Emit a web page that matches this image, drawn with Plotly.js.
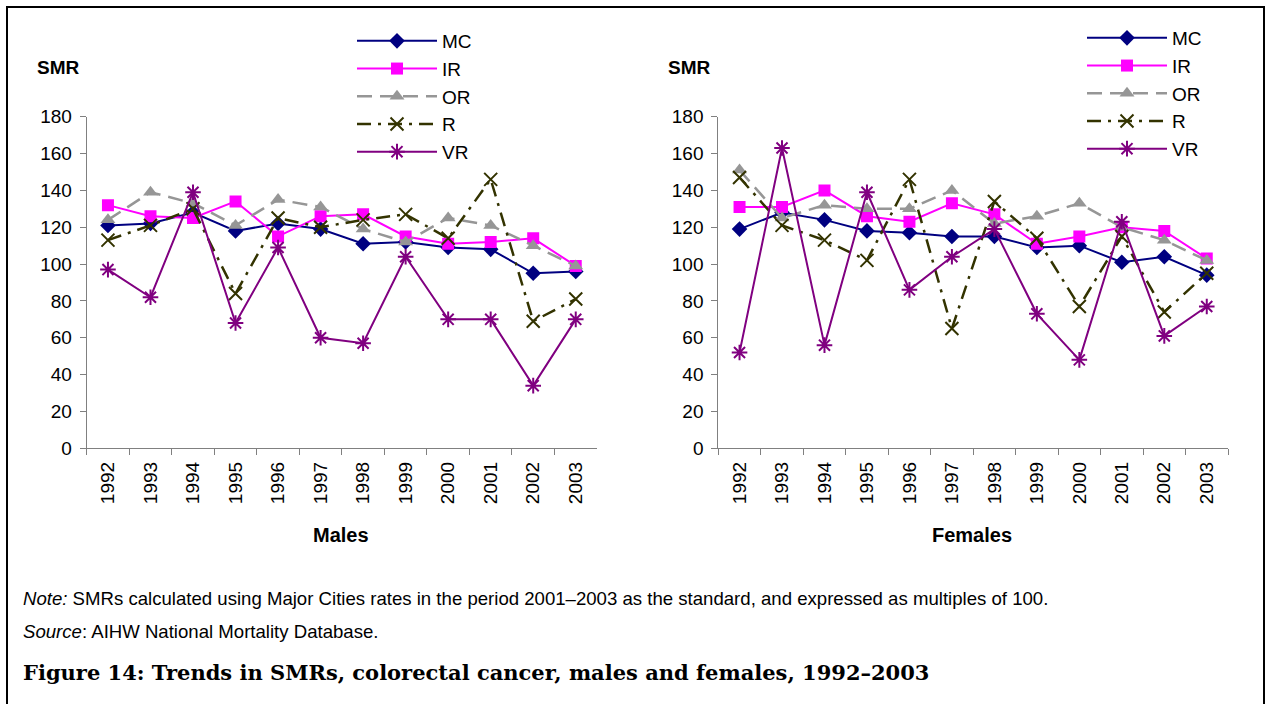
<!DOCTYPE html>
<html><head><meta charset="utf-8">
<script src="https://cdn.plot.ly/plotly-3.0.1.min.js"></script>
<style>html,body{margin:0;padding:0;background:#fff;}#chart{width:1268px;height:704px;}</style>
</head><body><div id="chart"></div>
<script>
const years = ["1992","1993","1994","1995","1996","1997","1998","1999","2000","2001","2002","2003"];
const seriesNames = ["MC","IR","OR","R","VR"];
// Males
const maleMC = [121, 122, 128, 118, 122, 119, 111, 112, 109, 108, 95, 96];
const maleIR = [132, 126, 125, 134, 115, 126, 127, 115, 111, 112, 114, 99];
const maleOR = [124, 139, 133, 121, 135, 131, 119, 112, 125, 121, 110, 99];
const maleR  = [113, 121, 130, 84, 125, 120, 124, 127, 114, 146, 69, 81];
const maleVR = [97, 82, 139, 68, 109, 60, 57, 104, 70, 70, 34, 70];
// Females
const femaleMC = [119, 128, 124, 118, 117, 115, 115, 109, 110, 101, 104, 94];
const femaleIR = [131, 131, 140, 126, 123, 133, 127, 111, 115, 120, 118, 103];
const femaleOR = [151, 125, 132, 130, 130, 140, 122, 126, 133, 120, 113, 102];
const femaleR  = [147, 121, 113, 102, 146, 65, 134, 114, 77, 115, 74, 95];
const femaleVR = [52, 163, 56, 139, 86, 104, 119, 73, 48, 123, 61, 77];
const yTicks = [0,20,40,60,80,100,120,140,160,180];

const styles = {
  MC: {line:{color:'#000080',width:2}, marker:{symbol:'diamond',size:12,color:'#000080'}},
  IR: {line:{color:'#FF00FF',width:2}, marker:{symbol:'square',size:12,color:'#FF00FF'}},
  OR: {line:{color:'#969696',width:2.5,dash:'15px,8px'}, marker:{symbol:'triangle-up',size:13,color:'#969696'}},
  R:  {line:{color:'#333300',width:2.5,dash:'14px,7px,3px,7px'}, marker:{symbol:'x-thin-open',size:13,color:'#333300',line:{width:2,color:'#333300'}}},
  VR: {line:{color:'#800080',width:2}, marker:{symbol:'asterisk-open',size:13,color:'#800080',line:{width:2,color:'#800080'}}}
};
const maleData = {MC:maleMC, IR:maleIR, OR:maleOR, R:maleR, VR:maleVR};
const femaleData = {MC:femaleMC, IR:femaleIR, OR:femaleOR, R:femaleR, VR:femaleVR};

const traces = [];
seriesNames.forEach(n => {
  traces.push(Object.assign({type:'scatter',mode:'lines+markers',name:n,x:years,y:maleData[n],xaxis:'x',yaxis:'y',legend:'legend'}, JSON.parse(JSON.stringify(styles[n]))));
});
seriesNames.forEach(n => {
  traces.push(Object.assign({type:'scatter',mode:'lines+markers',name:n,x:years,y:femaleData[n],xaxis:'x2',yaxis:'y2',legend:'legend2'}, JSON.parse(JSON.stringify(styles[n]))));
});

const W=1268,H=704;
const FAM = 'Liberation Sans, Arial, sans-serif';
const axFont = {family:FAM, size:19, color:'#000'};
function xax(d0,d1,anchor){
  return {type:'category', domain:[d0/W,d1/W], anchor:anchor, range:[-0.5,11.5], showline:true, linecolor:'#808080', linewidth:1,
    ticks:'outside', ticklen:6, tickcolor:'#808080', tickson:'boundaries', tickangle:-90, tickfont:axFont, ticklabelstandoff:5,
    showgrid:false, zeroline:false, fixedrange:true};
}
function yax(anchor){
  return {domain:[(H-448.3)/H,(H-116.7)/H], anchor:anchor, range:[0,180], tickvals:yTicks, showline:true, linecolor:'#808080', linewidth:1,
    ticks:'outside', ticklen:6, tickcolor:'#808080', tickfont:axFont, ticklabelstandoff:4, showgrid:false, zeroline:false, fixedrange:true};
}
const legFont = {family:FAM, size:19, color:'#000'};
const layout = {
  width:W, height:H, margin:{l:0,r:0,t:0,b:0}, paper_bgcolor:'#fff', plot_bgcolor:'#fff', showlegend:true,
  xaxis: xax(86.7,597,'y'), yaxis: yax('x'),
  xaxis2: xax(718.3,1228,'y2'), yaxis2: yax('x2'),
  legend:{x:352/W, y:1-22/H, xanchor:'left', yanchor:'top', font:legFont, itemwidth:80, bgcolor:'rgba(0,0,0,0)', tracegroupgap:0},
  legend2:{x:1082/W, y:1-19/H, xanchor:'left', yanchor:'top', font:legFont, itemwidth:80, bgcolor:'rgba(0,0,0,0)', tracegroupgap:0},
  shapes:[{type:'rect', xref:'paper', yref:'paper', x0:7/W, x1:1264/W, y0:-0.01, y1:1-7/H, line:{color:'#000',width:2}}],
  annotations:[
    {text:'<b>SMR</b>', xref:'paper', yref:'paper', x:35/W, y:1-67/H, xanchor:'left', yanchor:'middle', showarrow:false, font:{family:FAM, size:19, color:'#000'}},
    {text:'<b>SMR</b>', xref:'paper', yref:'paper', x:666/W, y:1-67/H, xanchor:'left', yanchor:'middle', showarrow:false, font:{family:FAM, size:19, color:'#000'}},
    {text:'<b>Males</b>', xref:'paper', yref:'paper', x:341/W, y:1-535/H, xanchor:'center', yanchor:'middle', showarrow:false, font:{family:FAM, size:20, color:'#000'}},
    {text:'<b>Females</b>', xref:'paper', yref:'paper', x:972/W, y:1-535/H, xanchor:'center', yanchor:'middle', showarrow:false, font:{family:FAM, size:20, color:'#000'}},
    {text:'<i>Note:</i> SMRs calculated using Major Cities rates in the period 2001\u20132003 as the standard, and expressed as multiples of 100.', xref:'paper', yref:'paper', x:21/W, y:1-598/H, xanchor:'left', yanchor:'middle', showarrow:false, font:{family:FAM, size:18.6, color:'#000'}},
    {text:'<i>Source</i>: AIHW National Mortality Database.', xref:'paper', yref:'paper', x:21/W, y:1-631/H, xanchor:'left', yanchor:'middle', showarrow:false, font:{family:FAM, size:18.6, color:'#000'}},
    {text:'<b>Figure 14: Trends in SMRs, colorectal cancer, males and females, 1992\u20132003</b>', xref:'paper', yref:'paper', x:21/W, y:1-672/H, xanchor:'left', yanchor:'middle', showarrow:false, font:{family:'DejaVu Serif, serif', size:21, color:'#000'}}
  ]
};
Plotly.newPlot('chart', traces, layout, {staticPlot:true, displayModeBar:false});
</script></body></html>
